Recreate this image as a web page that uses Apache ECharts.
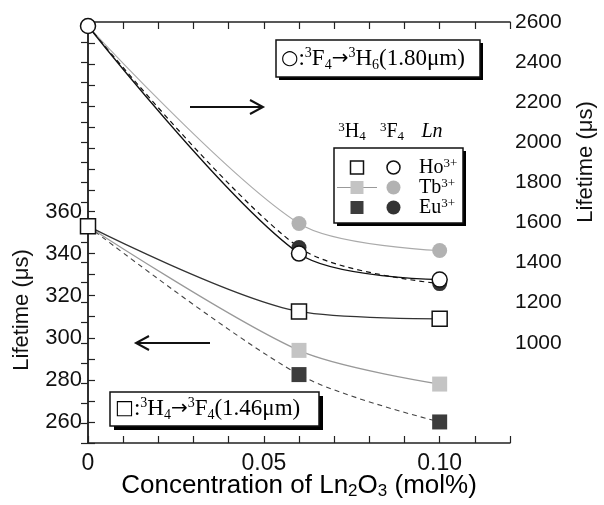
<!DOCTYPE html>
<html>
<head>
<meta charset="utf-8">
<script src="https://cdn.jsdelivr.net/npm/echarts@6/dist/echarts.min.js"></script>
<style>
html,body{margin:0;padding:0;background:#fff;}
#chart{width:604px;height:505px;}
</style>
</head>
<body>
<div id="chart"></div>
<script>
// ---- data ----
const concentrations = [0, 0.06, 0.10];
// 3H4 lifetimes (left axis, us)
const h4_Ho = [353, 312.5, 309];
const h4_Tb = [353, 294, 278];
const h4_Eu = [353, 282.5, 260];
// 3F4 lifetimes (right axis, us)
const f4_Ho = [2580, 1445, 1315];
const f4_Tb = [2580, 1595, 1460];
const f4_Eu = [2580, 1475, 1295];
// tick labels
const xTickValues = [0, 0.05, 0.10];
const xTickLabels = ['0', '0.05', '0.10'];
const leftTickLabels = [260, 280, 300, 320, 340, 360];
const rightTickLabels = [1000, 1200, 1400, 1600, 1800, 2000, 2200, 2400, 2600];

const pairs = (ys) => concentrations.map((x, i) => [x, ys[i]]);

const SANS = '"Liberation Sans", Arial, sans-serif';
const SERIF = '"Liberation Serif", "Times New Roman", serif';
const AX = '#222';

const chart = echarts.init(document.getElementById('chart'), null, {renderer: 'canvas'});

function lineSeries(data, yIdx, sym, fill, border, lineColor, lineType, lineWidth, z) {
  return {
    type: 'line', xAxisIndex: 0, yAxisIndex: yIdx, data: data,
    smooth: 0.3, symbol: sym, symbolSize: 15, z: z,
    lineStyle: {color: lineColor, width: lineWidth, type: lineType},
    itemStyle: {color: fill, borderColor: border, borderWidth: border === 'none' ? 0 : 1.5},
    emphasis: {disabled: true}, animation: false
  };
}

const supRich = {
  a: {fontFamily: SERIF, fontSize: 23, lineHeight: 26, verticalAlign: 'middle', color: '#111'},
  p: {fontFamily: SERIF, fontSize: 14, lineHeight: 14, verticalAlign: 'top', color: '#111'},
  b: {fontFamily: SERIF, fontSize: 14, lineHeight: 14, verticalAlign: 'bottom', color: '#111'},
  s: {fontFamily: 'DejaVu Sans', fontSize: 20, lineHeight: 26, verticalAlign: 'middle', color: '#111'}
};
const legRich = {
  a: {fontFamily: SERIF, fontSize: 20, lineHeight: 22, verticalAlign: 'middle', color: '#111'},
  i: {fontFamily: SERIF, fontSize: 20, lineHeight: 22, verticalAlign: 'middle', fontStyle: 'italic', color: '#111'},
  p: {fontFamily: SERIF, fontSize: 13, lineHeight: 12, verticalAlign: 'top', color: '#111'},
  b: {fontFamily: SERIF, fontSize: 13, lineHeight: 12, verticalAlign: 'bottom', color: '#111'}
};

function shadowBox(x, y, w, h, off) {
  return [
    {type: 'rect', shape: {x: x + off, y: y + off, width: w, height: h}, style: {fill: '#000'}, z: 50},
    {type: 'rect', shape: {x: x, y: y, width: w, height: h}, style: {fill: '#fff', stroke: '#111', lineWidth: 1.5}, z: 51}
  ];
}

const graphics = [].concat(
  shadowBox(276, 40, 204, 37, 3),
  [{type: 'text', x: 281, y: 59, z: 52, style: {
    text: '{s|○}{a|:}{p|3}{a|F}{b|4}{s|→}{p|3}{a|H}{b|6}{a|(1.80μm)}',
    rich: supRich, verticalAlign: 'middle', align: 'left'}}],
  shadowBox(110, 392, 209, 34, 4),
  [{type: 'text', x: 115, y: 409, z: 52, style: {
    text: '{s|□}{a|:}{p|3}{a|H}{b|4}{s|→}{p|3}{a|F}{b|4}{a|(1.46μm)}',
    rich: supRich, verticalAlign: 'middle', align: 'left'}}],
  shadowBox(334, 148, 129, 75, 3),
  [
    {type: 'text', x: 352, y: 132, z: 52, style: {text: '{p|3}{a|H}{b|4}', rich: legRich, align: 'center', verticalAlign: 'middle'}},
    {type: 'text', x: 392, y: 132, z: 52, style: {text: '{p|3}{a|F}{b|4}', rich: legRich, align: 'center', verticalAlign: 'middle'}},
    {type: 'text', x: 432, y: 132, z: 52, style: {text: '{i|Ln}', rich: legRich, align: 'center', verticalAlign: 'middle'}},
    // legend symbols
    {type: 'rect', shape: {x: 350.5, y: 161, width: 13, height: 13}, style: {fill: '#fff', stroke: '#111', lineWidth: 1.5}, z: 53},
    {type: 'circle', shape: {cx: 393.5, cy: 167.5, r: 6.5}, style: {fill: '#fff', stroke: '#111', lineWidth: 1.5}, z: 53},
    {type: 'line', shape: {x1: 337, y1: 187.5, x2: 377, y2: 187.5}, style: {stroke: '#999', lineWidth: 1}, z: 52},
    {type: 'rect', shape: {x: 350.5, y: 181, width: 13, height: 13}, style: {fill: '#c4c4c4'}, z: 53},
    {type: 'circle', shape: {cx: 393.5, cy: 187.5, r: 7}, style: {fill: '#b2b2b2'}, z: 53},
    {type: 'rect', shape: {x: 350.5, y: 201, width: 13, height: 13}, style: {fill: '#3c3c3c'}, z: 53},
    {type: 'circle', shape: {cx: 393.5, cy: 207.5, r: 7}, style: {fill: '#333'}, z: 53},
    {type: 'text', x: 419, y: 168, z: 52, style: {text: '{a|Ho}{p|3+}', rich: legRich, align: 'left', verticalAlign: 'middle'}},
    {type: 'text', x: 419, y: 188, z: 52, style: {text: '{a|Tb}{p|3+}', rich: legRich, align: 'left', verticalAlign: 'middle'}},
    {type: 'text', x: 419, y: 208, z: 52, style: {text: '{a|Eu}{p|3+}', rich: legRich, align: 'left', verticalAlign: 'middle'}},
    // arrows
    {type: 'line', shape: {x1: 190, y1: 107, x2: 262, y2: 107}, style: {stroke: '#111', lineWidth: 2}, z: 52},
    {type: 'polyline', shape: {points: [[250, 100], [263, 107], [250, 114]]}, style: {stroke: '#111', lineWidth: 2, fill: null}, z: 52},
    {type: 'line', shape: {x1: 137, y1: 343, x2: 210, y2: 343}, style: {stroke: '#111', lineWidth: 2}, z: 52},
    {type: 'polyline', shape: {points: [[149, 336], [136, 343], [149, 350]]}, style: {stroke: '#111', lineWidth: 2, fill: null}, z: 52},
    // axis titles
    {type: 'text', x: 22, y: 310, rotation: Math.PI / 2, z: 52, style: {text: 'Lifetime (μs)', font: '22px ' + SANS, fill: '#111', align: 'center', verticalAlign: 'middle'}},
    {type: 'text', x: 586, y: 162, rotation: Math.PI / 2, z: 52, style: {text: 'Lifetime (μs)', font: '22px ' + SANS, fill: '#111', align: 'center', verticalAlign: 'middle'}},
    {type: 'text', x: 299, y: 486, z: 52, style: {
      text: '{a|Concentration of Ln}{b|2}{a|O}{b|3}{a| (mol%)}',
      rich: {
        a: {fontFamily: SANS, fontSize: 26, lineHeight: 28, verticalAlign: 'middle', color: '#111'},
        b: {fontFamily: SANS, fontSize: 17, lineHeight: 16, verticalAlign: 'bottom', color: '#111'}
      }, align: 'center', verticalAlign: 'middle'}}
  ]
);

const option = {
  backgroundColor: '#fff',
  animation: false,
  grid: {left: 88, right: 94, top: 22, bottom: 62, containLabel: false},
  xAxis: [
    {type: 'value', position: 'bottom', min: 0, max: 0.12, interval: 0.01,
     axisLine: {show: true, lineStyle: {color: AX, width: 1.5}},
     axisTick: {show: true, inside: true, length: 7, lineStyle: {color: AX, width: 1.2}},
     splitLine: {show: false},
     axisLabel: {show: true, margin: 9, fontFamily: SANS, fontSize: 23, color: '#111',
       formatter: (v) => { for (let i = 0; i < xTickValues.length; i++) { if (Math.abs(v - xTickValues[i]) < 1e-6) return xTickLabels[i]; } return ''; }}},
    {type: 'value', position: 'top', min: 0, max: 0.12, interval: 0.01,
     axisLine: {show: true, lineStyle: {color: AX, width: 1.5}},
     axisTick: {show: true, inside: true, length: 7, lineStyle: {color: AX, width: 1.2}},
     splitLine: {show: false}, axisLabel: {show: false}}
  ],
  yAxis: [
    {type: 'value', position: 'left', min: 250, max: 450, interval: 10,
     axisLine: {show: true, lineStyle: {color: AX, width: 1.5}},
     axisTick: {show: true, inside: true, length: 7, lineStyle: {color: AX, width: 1.2}},
     splitLine: {show: false},
     axisLabel: {show: true, margin: 6, fontFamily: SANS, fontSize: 22, color: '#111',
       formatter: (v) => leftTickLabels.indexOf(Math.round(v)) >= 0 ? String(Math.round(v)) : ''}},
    {type: 'value', position: 'right', min: 500, max: 2600, interval: 100,
     axisLine: {show: true, lineStyle: {color: AX, width: 1.5}},
     axisTick: {show: true, inside: true, length: 7, lineStyle: {color: AX, width: 1.2}},
     splitLine: {show: false},
     axisLabel: {show: true, margin: 5, fontFamily: SANS, fontSize: 21, color: '#111',
       formatter: (v) => rightTickLabels.indexOf(Math.round(v)) >= 0 ? String(Math.round(v)) : ''}}
  ],
  series: [
    lineSeries(pairs(h4_Eu), 0, 'rect', '#3c3c3c', 'none', '#444', [5, 4], 1.1, 3),
    lineSeries(pairs(h4_Tb), 0, 'rect', '#c4c4c4', 'none', '#999', 'solid', 1.2, 4),
    lineSeries(pairs(h4_Ho), 0, 'rect', '#fff', '#111', '#333', 'solid', 1.3, 5),
    lineSeries(pairs(f4_Tb), 1, 'circle', '#b2b2b2', 'none', '#aaa', 'solid', 1.1, 3),
    lineSeries(pairs(f4_Eu), 1, 'circle', '#333', 'none', '#111', [5, 4], 1.2, 4),
    lineSeries(pairs(f4_Ho), 1, 'circle', '#fff', '#111', '#111', 'solid', 1.3, 5)
  ],
  graphic: graphics
};
chart.setOption(option);
</script>
</body>
</html>
